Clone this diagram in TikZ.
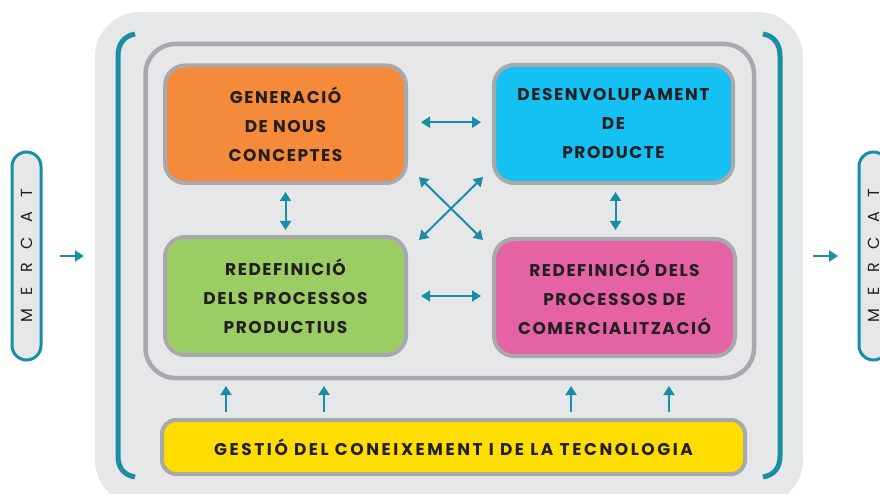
\documentclass[tikz,border=0pt]{standalone}
\usepackage{fontspec}
\setmainfont{Poppins}
\usetikzlibrary{arrows.meta}
\definecolor{grayl}{HTML}{E6E7E8}
\definecolor{grayb}{HTML}{A7A9AC}
\definecolor{tealc}{HTML}{1A8DA5}
\definecolor{orangec}{HTML}{F58A3A}
\definecolor{bluec}{HTML}{15C0F2}
\definecolor{greenc}{HTML}{9BCD64}
\definecolor{pinkc}{HTML}{E563A4}
\definecolor{yellowc}{HTML}{FFDD00}
\definecolor{textc}{HTML}{231F20}
\newcommand\boxfont{\fontsize{17}{29}\selectfont\bfseries\addfontfeatures{LetterSpace=9}}
\newcommand\widefont{\fontsize{17}{29}\selectfont\bfseries\addfontfeatures{LetterSpace=15}}
\newcommand\mercatfont{\fontsize{16}{18}\selectfont\addfontfeatures{LetterSpace=88}}
\tikzset{
  panelbox/.style={fill=grayl, draw=none, rounded corners=45pt, inner sep=0pt},
  framebox/.style={draw=grayb, line width=4.5pt, rounded corners=30pt, inner sep=0pt},
  box/.style={draw=grayb, line width=4pt, rounded corners=20pt, inner sep=0pt, align=center, text=textc, font=\boxfont},
  bracket/.style={draw=tealc, line width=5pt},
  conn/.style={draw=tealc, line width=2pt, {Triangle[length=9pt,width=11pt]}-{Triangle[length=9pt,width=11pt]}},
  onearrow/.style={draw=tealc, line width=2pt, -{Triangle[length=9pt,width=11pt]}},
  pill/.style={draw=tealc, line width=3pt, fill=grayl, rounded corners=14.5pt, minimum width=208pt, minimum height=29pt, inner sep=0pt, rotate=90, text=textc, font=\mercatfont},
}
\begin{document}
\begin{tikzpicture}[x=1pt,y=-1pt]
\useasboundingbox (0,0) rectangle (880,494);
\fill[white] (0,0) rectangle (880,494);
% background panel
\node[panelbox, minimum width=708pt, minimum height=493pt] (panel) at (449,258.5) {};
% brackets
\draw[bracket] (135,34) .. controls (124,36) and (118,44) .. (118,56) -- (118,456) .. controls (118,468) and (124,475) .. (135,477);
\draw[bracket] (763,34) .. controls (774,36) and (780,44) .. (780,56) -- (780,456) .. controls (780,468) and (774,475) .. (763,477);
% inner frame
\node[framebox, minimum width=608.5pt, minimum height=334pt] (frame) at (449.75,211) {};
% boxes
\node[box, fill=orangec, minimum width=241pt, minimum height=117.5pt] (gen) at (285.5,124.25) {GENERACIÓ\\DE NOUS\\CONCEPTES};
\node[box, fill=bluec, minimum width=239pt, minimum height=118pt] (dev) at (613.5,124) {DESENVOLUPAMENT\\DE\\PRODUCTE};
\node[box, fill=greenc, minimum width=241pt, minimum height=118pt] (prod) at (285.5,296) {REDEFINICIÓ\\DELS PROCESSOS\\PRODUCTIUS};
\node[box, fill=pinkc, minimum width=241pt, minimum height=117pt] (com) at (614.5,297.5) {REDEFINICIÓ DELS\\PROCESSOS DE\\COMERCIALITZACIÓ};
\node[box, fill=yellowc, rounded corners=14pt, minimum width=583pt, minimum height=54pt, font=\widefont] (gest) at (453.5,447) {GESTIÓ DEL CONEIXEMENT I DE LA TECNOLOGIA};
% connectors between boxes
\draw[conn, shorten <=13pt, shorten >=11pt] ([yshift=2pt]gen.east) -- ([yshift=2pt]gen.east -| dev.west);
\draw[conn, shorten <=13pt, shorten >=11pt] (prod.east) -- (prod.east -| com.west);
\draw[conn, shorten <=7pt, shorten >=5pt] (gen.south) -- (prod.north);
\draw[conn, shorten <=7pt, shorten >=7pt] ([xshift=2pt]dev.south) -- ([xshift=2pt]dev.south |- com.north);
\coordinate (d1) at (419,177);
\coordinate (d2) at (483,240);
\coordinate (d3) at (483,177);
\coordinate (d4) at (419,240);
\draw[conn] (d1) -- (d2);
\draw[conn] (d3) -- (d4);
% up arrows
\foreach \i/\xx in {1/226,2/324,3/571,4/669}{
  \coordinate (u\i) at (\xx,400);
  \draw[onearrow, shorten <=6pt, shorten >=5.75pt] (gest.north -| u\i) -- (frame.south -| u\i);
}
% market pills
\node[pill] (mL) at (26.5,256) {MERCAT};
\node[pill] (mR) at (873.5,256) {MERCAT};
\draw[onearrow, shorten <=33.5pt, shorten >=11pt] (mL.center) -- (mL.center -| panel.west);
\draw[onearrow, shorten <=10pt, shorten >=35.5pt] (mR.center -| panel.east) -- (mR.center);
\end{tikzpicture}
\end{document}
